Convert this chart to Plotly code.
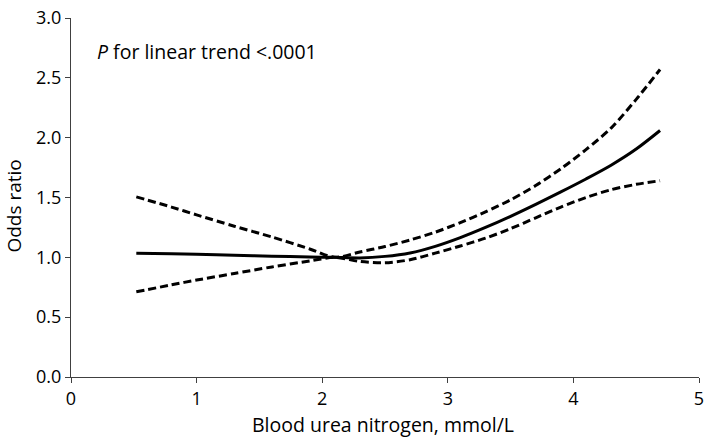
import plotly.graph_objects as go

# Blood urea nitrogen (mmol/L)
bun = [0.52, 0.8, 1.0, 1.3, 1.6, 1.9, 2.1, 2.3, 2.5, 2.7, 2.9, 3.1, 3.3, 3.5, 3.7, 3.9, 4.1, 4.3, 4.5, 4.69]
# Odds ratio estimate
or_est = [1.035, 1.03, 1.025, 1.018, 1.01, 1.003, 1.0, 0.995, 1.008, 1.037, 1.092, 1.165, 1.25, 1.343, 1.443, 1.547, 1.655, 1.77, 1.905, 2.06]
# 95% CI bounds
ci_upper = [1.505, 1.42, 1.355, 1.26, 1.17, 1.07, 1.0, 1.045, 1.09, 1.145, 1.21, 1.29, 1.38, 1.48, 1.6, 1.74, 1.9, 2.08, 2.32, 2.57]
ci_lower = [0.712, 0.77, 0.81, 0.865, 0.92, 0.97, 1.0, 0.965, 0.955, 0.98, 1.035, 1.095, 1.16, 1.24, 1.33, 1.42, 1.5, 1.565, 1.61, 1.64]

x_ticks = [0, 1, 2, 3, 4, 5]
y_ticks = [0.0, 0.5, 1.0, 1.5, 2.0, 2.5, 3.0]

FONT = "Open Sans"
fig = go.Figure()
fig.add_trace(go.Scatter(x=bun, y=ci_upper, mode="lines", line=dict(color="black", width=3, dash="8px,4px", shape="spline", smoothing=0.8), showlegend=False))
fig.add_trace(go.Scatter(x=bun, y=ci_lower, mode="lines", line=dict(color="black", width=3, dash="8px,4px", shape="spline", smoothing=0.8), showlegend=False))
fig.add_trace(go.Scatter(x=bun, y=or_est, mode="lines", line=dict(color="black", width=3, shape="spline", smoothing=0.8), showlegend=False))

fig.add_annotation(x=0.19, y=2.72, xref="x", yref="y", text="<i>P</i> for linear trend <.0001",
                   showarrow=False, xanchor="left", yanchor="middle",
                   font=dict(family=FONT, size=19.5, color="black"))
fig.add_annotation(x=0.4976, y=-0.132, xref="paper", yref="paper", text="Blood urea nitrogen, mmol/L",
                   showarrow=False, xanchor="center", yanchor="middle",
                   font=dict(family=FONT, size=19.5, color="black"))
fig.add_annotation(x=-0.09, y=0.476, xref="paper", yref="paper", text="Odds ratio", textangle=-90,
                   showarrow=False, xanchor="center", yanchor="middle",
                   font=dict(family=FONT, size=19, color="black"))

axis_common = dict(showline=True, linecolor="#404040", linewidth=1, ticks="outside", ticklen=5,
                   tickcolor="#404040", showgrid=False, zeroline=False, ticklabeloverflow="allow",
                   tickfont=dict(family=FONT, size=18, color="black"))
fig.update_xaxes(range=[0, 5], tickvals=x_ticks, ticktext=[str(v) for v in x_ticks], **axis_common)
fig.update_yaxes(range=[0, 3], tickvals=y_ticks, ticktext=[f"{v:.1f}" for v in y_ticks], **axis_common)
fig.update_layout(width=709, height=438, margin=dict(l=71, r=5, t=5, b=61),
                  plot_bgcolor="white", paper_bgcolor="white")
fig.write_html("out.html", config={"displayModeBar": False},
               post_script="document.body.style.margin='0';")
